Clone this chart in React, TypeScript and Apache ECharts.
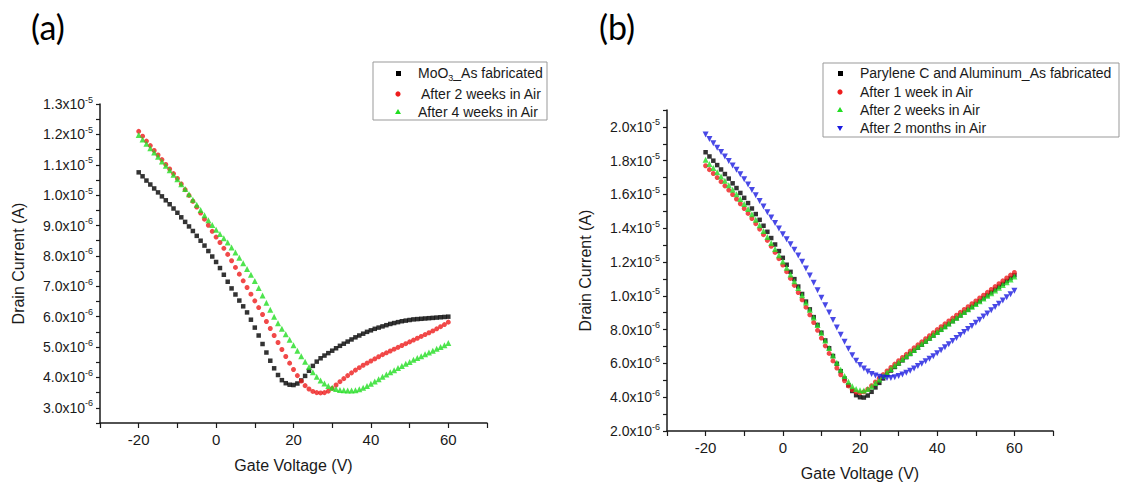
import React, { useEffect, useRef } from 'react';
import * as echarts from 'echarts';

const FONT = '"Liberation Sans", Arial, sans-serif';
const TITLE_FONT = 'Lato, "Open Sans", sans-serif';
const INK = '#1a1a1a';
const RED = '#ee1c1c';
const GREEN = '#22dd22';
const BLUE = '#1a1ae0';

// Gate voltage (V)
const gateVoltage = [
  -20, -19, -18, -17, -16, -15, -14, -13, -12, -11, -10, -9, -8, -7, -6, -5, -4, -3, -2, -1, 0,
  1, 2, 3, 4, 5, 6, 7, 8, 9, 10, 11, 12, 13, 14, 15, 16, 17, 18, 19, 20,
  21, 22, 23, 24, 25, 26, 27, 28, 29, 30, 31, 32, 33, 34, 35, 36, 37, 38, 39, 40,
  41, 42, 43, 44, 45, 46, 47, 48, 49, 50, 51, 52, 53, 54, 55, 56, 57, 58, 59, 60,
];

// Panel (a) drain current, in units of 1e-6 A
const moO3AsFabricated = [
  10.75, 10.62, 10.48, 10.35, 10.22, 10.09, 9.96, 9.83, 9.70, 9.56, 9.42, 9.27, 9.12, 8.97, 8.82, 8.66, 8.50, 8.34, 8.16, 7.98, 7.80,
  7.60, 7.38, 7.15, 6.93, 6.73, 6.53, 6.34, 6.14, 5.90, 5.64, 5.38, 5.10, 4.82, 4.55, 4.30, 4.08, 3.91, 3.81, 3.76, 3.75,
  3.80, 3.90, 4.05, 4.22, 4.38, 4.52, 4.63, 4.72, 4.80, 4.88, 4.96, 5.04, 5.11, 5.18, 5.25, 5.32, 5.38, 5.44, 5.50, 5.55,
  5.60, 5.64, 5.68, 5.72, 5.76, 5.79, 5.82, 5.85, 5.87, 5.89, 5.91, 5.92, 5.93, 5.94, 5.95, 5.96, 5.97, 5.98, 5.99, 6.00,
];
const moO3After2Weeks = [
  12.10, 11.94, 11.78, 11.63, 11.47, 11.32, 11.17, 11.01, 10.86, 10.71, 10.55, 10.37, 10.18, 9.99, 9.80, 9.61, 9.41, 9.21, 9.01, 8.81, 8.62,
  8.44, 8.25, 8.05, 7.84, 7.62, 7.40, 7.18, 6.96, 6.74, 6.52, 6.30, 6.07, 5.84, 5.61, 5.38, 5.15, 4.92, 4.69, 4.47, 4.26,
  4.06, 3.88, 3.73, 3.62, 3.54, 3.50, 3.49, 3.50, 3.55, 3.64, 3.75, 3.86, 3.96, 4.06, 4.15, 4.24, 4.32, 4.40, 4.47, 4.54,
  4.61, 4.68, 4.75, 4.81, 4.87, 4.93, 4.99, 5.05, 5.11, 5.17, 5.23, 5.29, 5.35, 5.41, 5.47, 5.53, 5.60, 5.67, 5.74, 5.82,
];
const moO3After4Weeks = [
  11.98, 11.83, 11.69, 11.54, 11.40, 11.26, 11.11, 10.97, 10.82, 10.67, 10.52, 10.36, 10.20, 10.03, 9.85, 9.68, 9.51, 9.34, 9.17, 9.02, 8.86,
  8.72, 8.58, 8.44, 8.28, 8.11, 7.94, 7.76, 7.57, 7.38, 7.17, 6.94, 6.70, 6.46, 6.23, 6.00, 5.78, 5.60, 5.42, 5.24, 5.06,
  4.88, 4.70, 4.52, 4.34, 4.17, 4.02, 3.90, 3.80, 3.72, 3.66, 3.62, 3.59, 3.58, 3.57, 3.57, 3.58, 3.61, 3.66, 3.72, 3.79,
  3.87, 3.94, 4.02, 4.10, 4.17, 4.24, 4.31, 4.38, 4.45, 4.51, 4.58, 4.64, 4.70, 4.76, 4.82, 4.88, 4.94, 5.00, 5.06, 5.13,
];

// Panel (b) drain current, in units of 1e-6 A
const paryleneAsFabricated = [
  18.50, 18.25, 18.00, 17.74, 17.48, 17.21, 16.94, 16.66, 16.38, 16.09, 15.80, 15.49, 15.17, 14.84, 14.50, 14.15, 13.79, 13.42, 13.04, 12.65, 12.25,
  11.84, 11.42, 10.99, 10.55, 10.11, 9.66, 9.20, 8.74, 8.28, 7.82, 7.36, 6.90, 6.44, 5.98, 5.54, 5.11, 4.71, 4.37, 4.12, 4.00,
  3.98, 4.10, 4.32, 4.58, 4.85, 5.11, 5.35, 5.58, 5.79, 5.99, 6.18, 6.37, 6.56, 6.75, 6.93, 7.11, 7.29, 7.47, 7.65, 7.82,
  7.99, 8.16, 8.33, 8.50, 8.67, 8.84, 9.01, 9.18, 9.35, 9.52, 9.69, 9.86, 10.03, 10.20, 10.37, 10.54, 10.71, 10.88, 11.05, 11.22,
];
const paryleneAfter1Week = [
  17.70, 17.47, 17.24, 17.00, 16.76, 16.51, 16.26, 16.00, 15.73, 15.45, 15.17, 14.88, 14.58, 14.27, 13.95, 13.62, 13.28, 12.93, 12.57, 12.20, 11.82,
  11.43, 11.03, 10.62, 10.20, 9.77, 9.33, 8.88, 8.42, 7.96, 7.50, 7.04, 6.59, 6.15, 5.73, 5.33, 4.97, 4.67, 4.44, 4.30, 4.26,
  4.32, 4.47, 4.68, 4.90, 5.12, 5.34, 5.55, 5.76, 5.96, 6.16, 6.35, 6.54, 6.73, 6.92, 7.10, 7.28, 7.46, 7.64, 7.82, 8.00,
  8.17, 8.34, 8.51, 8.68, 8.85, 9.02, 9.19, 9.36, 9.53, 9.70, 9.87, 10.04, 10.21, 10.38, 10.55, 10.72, 10.89, 11.06, 11.23, 11.38,
];
const paryleneAfter2Weeks = [
  18.05, 17.81, 17.57, 17.32, 17.07, 16.81, 16.55, 16.28, 16.01, 15.73, 15.44, 15.14, 14.83, 14.51, 14.18, 13.84, 13.49, 13.13, 12.77, 12.41, 12.04,
  11.66, 11.27, 10.87, 10.46, 10.04, 9.61, 9.17, 8.72, 8.27, 7.81, 7.36, 6.91, 6.47, 6.04, 5.63, 5.25, 4.92, 4.65, 4.48, 4.41,
  4.40, 4.48, 4.64, 4.84, 5.05, 5.26, 5.47, 5.67, 5.87, 6.06, 6.25, 6.44, 6.62, 6.80, 6.98, 7.16, 7.34, 7.52, 7.69, 7.86,
  8.03, 8.20, 8.37, 8.54, 8.71, 8.88, 9.04, 9.20, 9.36, 9.52, 9.68, 9.84, 10.00, 10.16, 10.32, 10.48, 10.64, 10.80, 10.96, 11.14,
];
const paryleneAfter2Months = [
  19.55, 19.29, 19.03, 18.77, 18.51, 18.25, 17.98, 17.72, 17.46, 17.20, 16.90, 16.59, 16.27, 15.95, 15.62, 15.29, 14.95, 14.63, 14.31, 13.98, 13.65,
  13.35, 13.05, 12.73, 12.39, 12.02, 11.62, 11.20, 10.77, 10.33, 9.89, 9.45, 9.01, 8.57, 8.13, 7.70, 7.28, 6.87, 6.49, 6.16, 5.90,
  5.70, 5.52, 5.38, 5.28, 5.21, 5.16, 5.14, 5.14, 5.18, 5.25, 5.34, 5.45, 5.57, 5.70, 5.84, 5.98, 6.13, 6.28, 6.43, 6.60,
  6.78, 6.96, 7.14, 7.32, 7.50, 7.68, 7.86, 8.04, 8.22, 8.40, 8.58, 8.77, 8.96, 9.15, 9.34, 9.53, 9.72, 9.91, 10.10, 10.30,
];

const pairs = (ys: number[]) => gateVoltage.map((v, i) => [v, ys[i]]);

const xLabel = (v: number) => (v % 20 === 0 && v >= -20 && v <= 60 ? String(v) : '');
const yLabel = (step: number) => (v: number) => {
  const r = Math.round(v);
  if (Math.abs(v - r) > 1e-6 || r % step !== 0) return '';
  return r >= 10 ? `{n|${(r / 10).toFixed(1)}x10}{s|-5}` : `{n|${r.toFixed(1)}x10}{s|-6}`;
};

const axisLine = { show: true, onZero: false, lineStyle: { color: INK, width: 1.5 } };
const axisTick = { show: true, inside: false, length: 5, lineStyle: { color: INK, width: 1.2 } };
const nameStyle = { fontSize: 16, color: INK, fontFamily: FONT };
const richLabels = {
  n: { fontSize: 14, fontFamily: FONT, color: INK, lineHeight: 18 },
  s: { fontSize: 9, fontFamily: FONT, color: INK, lineHeight: 9, verticalAlign: 'top' },
};

const xAxis = {
  type: 'value',
  min: -30,
  max: 70,
  interval: 10,
  axisLine,
  axisTick,
  splitLine: { show: false },
  axisLabel: { formatter: xLabel, fontSize: 15, color: INK, fontFamily: FONT, margin: 9 },
  name: 'Gate Voltage (V)',
  nameLocation: 'middle',
  nameGap: 34,
  nameTextStyle: nameStyle,
};

const yAxisBase = {
  type: 'value',
  axisLine,
  axisTick: { ...axisTick, length: 4 },
  splitLine: { show: false },
  name: 'Drain Current (A)',
  nameLocation: 'middle',
  nameRotate: 90,
  nameTextStyle: nameStyle,
};

const series = (name: string, ys: number[], color: string, symbol: string, size: number, rotate = 0) => ({
  type: 'scatter',
  name,
  data: pairs(ys),
  symbol,
  symbolSize: size,
  symbolRotate: rotate,
  itemStyle: { color },
  silent: true,
});

const legendText = (x: number, y: number, text: string) => ({
  type: 'text',
  x,
  y,
  style: {
    text,
    fill: INK,
    fontSize: 14,
    fontFamily: FONT,
    verticalAlign: 'middle',
    rich: {
      m: { fontSize: 14, fontFamily: FONT, fill: INK, lineHeight: 18 },
      sub: { fontSize: 9, fontFamily: FONT, fill: INK, lineHeight: 9, verticalAlign: 'bottom' },
    },
  },
});

const title = (x: number, text: string) => ({
  type: 'text',
  x,
  y: 26,
  style: { text, fill: '#000', fontSize: 34, fontFamily: TITLE_FONT, align: 'center', verticalAlign: 'middle' },
});

const optionA = {
  animation: false,
  backgroundColor: '#fff',
  grid: { left: 100, top: 104, width: 387, height: 319, outerBoundsMode: 'none' },
  xAxis,
  yAxis: { ...yAxisBase, min: 2.5, max: 13, interval: 0.5, nameGap: 74,
    axisLabel: { formatter: yLabel(1), rich: richLabels, margin: 7 } },
  series: [
    series('MoO3_As fabricated', moO3AsFabricated, '#000', 'rect', 4.5),
    series('After 2 weeks in Air', moO3After2Weeks, RED, 'circle', 5),
    series('After 4 weeks in Air', moO3After4Weeks, GREEN, 'triangle', 6),
  ],
  graphic: [
    title(48, '(a)'),
    { type: 'rect', shape: { x: 373, y: 62, width: 174, height: 58 }, style: { fill: '#fff', stroke: '#999', lineWidth: 1 } },
    { type: 'rect', shape: { x: 396, y: 71, width: 5, height: 5 }, style: { fill: '#000' } },
    { type: 'circle', shape: { cx: 398, cy: 94, r: 2.6 }, style: { fill: RED } },
    { type: 'polygon', shape: { points: [[398, 109], [395, 114], [401, 114]] }, style: { fill: GREEN } },
    legendText(418, 73, '{m|MoO}{sub|3}{m|_As fabricated}'),
    legendText(421, 94, 'After 2 weeks in Air'),
    legendText(418, 112, 'After 4 weeks in Air'),
  ],
};

const OX = 561;
const optionB = {
  animation: false,
  backgroundColor: '#fff',
  grid: { left: 667 - OX, top: 110, width: 386, height: 321, outerBoundsMode: 'none' },
  xAxis,
  yAxis: { ...yAxisBase, min: 2, max: 21, interval: 1, nameGap: 74,
    axisLabel: { formatter: yLabel(2), rich: richLabels, margin: 7 } },
  series: [
    series('Parylene C and Aluminum_As fabricated', paryleneAsFabricated, '#000', 'rect', 4.5),
    series('After 1 week in Air', paryleneAfter1Week, RED, 'circle', 5),
    series('After 2 weeks in Air', paryleneAfter2Weeks, GREEN, 'triangle', 6),
    series('After 2 months in Air', paryleneAfter2Months, BLUE, 'triangle', 6, 180),
  ],
  graphic: [
    title(617 - OX, '(b)'),
    { type: 'rect', shape: { x: 823 - OX, y: 63, width: 296, height: 74 }, style: { fill: '#fff', stroke: '#999', lineWidth: 1 } },
    { type: 'rect', shape: { x: 838 - OX, y: 71, width: 5, height: 5 }, style: { fill: '#000' } },
    { type: 'circle', shape: { cx: 840 - OX, cy: 92, r: 2.6 }, style: { fill: RED } },
    { type: 'polygon', shape: { points: [[840 - OX, 107], [837 - OX, 112], [843 - OX, 112]] }, style: { fill: GREEN } },
    { type: 'polygon', shape: { points: [[837 - OX, 126], [843 - OX, 126], [840 - OX, 131]] }, style: { fill: BLUE } },
    legendText(860 - OX, 73, 'Parylene C and Aluminum_As fabricated'),
    legendText(860 - OX, 92, 'After 1 week in Air'),
    legendText(860 - OX, 110, 'After 2 weeks in Air'),
    legendText(860 - OX, 128, 'After 2 months in Air'),
  ],
};

export default function App() {
  const refA = useRef<HTMLDivElement>(null);
  const refB = useRef<HTMLDivElement>(null);
  useEffect(() => {
    const a = echarts.init(refA.current!, undefined, { renderer: 'svg' });
    const b = echarts.init(refB.current!, undefined, { renderer: 'svg' });
    a.setOption(optionA as any);
    b.setOption(optionB as any);
    return () => {
      a.dispose();
      b.dispose();
    };
  }, []);
  return (
    <div style={{ position: 'absolute', left: 0, top: 0, width: 1122, height: 484, background: '#fff' }}>
      <div ref={refA} style={{ position: 'absolute', left: 0, top: 0, width: 561, height: 484 }} />
      <div ref={refB} style={{ position: 'absolute', left: OX, top: 0, width: 561, height: 484 }} />
    </div>
  );
}
